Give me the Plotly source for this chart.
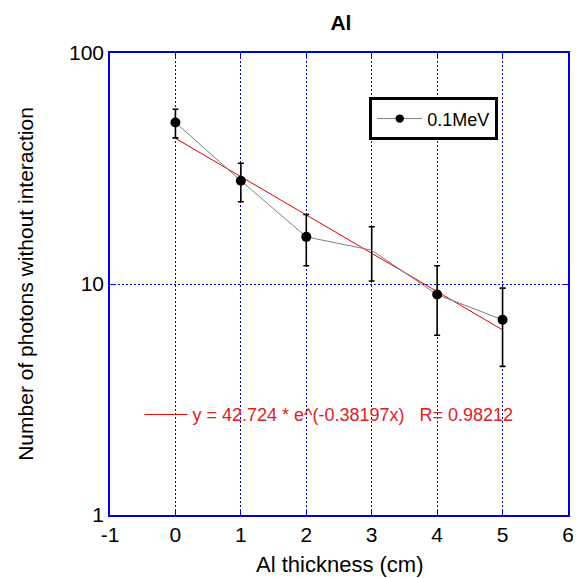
import plotly.graph_objects as go

# data
thickness = [0, 1, 2, 3, 4, 5]
photons = [50, 28, 16, 14, 9, 7]
errors = [7.1, 5.3, 4.0, 3.7, 3.0, 2.6]
marker_sizes = [10, 10, 10, 0, 10, 10]

fit_x = [0, 5]
fit_y = [42.72, 6.33]
fit_label = "y = 42.724 * e^(-0.38197x)   R= 0.98212"

x_ticks = [-1, 0, 1, 2, 3, 4, 5, 6]
x_ticklabels = ["-1", "0", "1", "2", "3", "4", "5", "6"]
y_ticks = [1, 10, 100]
y_ticklabels = ["1", "10", "100"]

FONT = "Liberation Sans, Arial, sans-serif"
BLUE = "#0000dd"

fig = go.Figure()

fig.add_trace(go.Scatter(
    x=fit_x, y=fit_y, mode="lines", name=fit_label,
    line=dict(color="#e00000", width=1),
    legend="legend2", showlegend=True,
))

fig.add_trace(go.Scatter(
    x=thickness, y=photons, mode="lines+markers", name="0.1MeV",
    line=dict(color="#808080", width=1),
    marker=dict(color="black", size=marker_sizes, opacity=1,
                line=dict(width=0)),
    error_y=dict(type="data", array=errors, visible=True,
                 color="black", thickness=1.6, width=3),
    legend="legend", showlegend=True,
))

axis_common = dict(
    showline=True, linecolor=BLUE, linewidth=1.5, mirror="ticks",
    ticks="inside", ticklen=5, tickcolor=BLUE,
    showgrid=True, gridcolor=BLUE, griddash="2px,2px", gridwidth=1,
    zeroline=False,
    tickfont=dict(family=FONT, size=21, color="black"),
)

fig.update_layout(
    width=573, height=570,
    margin=dict(l=102, r=7, t=45, b=63),
    paper_bgcolor="white", plot_bgcolor="white",
    font=dict(family=FONT, color="black"),
    showlegend=True,
    title=dict(text="<b>Al</b>", x=0.581, xanchor="center",
               y=0.975, yanchor="middle",
               font=dict(family=FONT, size=21, color="black")),
    xaxis=dict(range=[-1, 6], tickvals=x_ticks, ticktext=x_ticklabels,
               **axis_common),
    yaxis=dict(type="log", range=[0, 2], tickvals=y_ticks,
               ticktext=y_ticklabels, **axis_common),
    legend=dict(x=0.566, y=0.904, xanchor="left", yanchor="top",
                bgcolor="white", bordercolor="black", borderwidth=3,
                font=dict(family=FONT, size=18, color="black"),
                itemwidth=45),
    legend2=dict(x=0.0643, y=0.217, xanchor="left", yanchor="middle",
                 bgcolor="rgba(0,0,0,0)", borderwidth=0,
                 font=dict(family=FONT, size=18, color="#e02020"),
                 itemwidth=43),
    annotations=[
        dict(text="Al thickness (cm)", xref="paper", yref="paper",
             x=0.5, y=-0.1076, xanchor="center", yanchor="middle",
             showarrow=False, font=dict(family=FONT, size=22, color="black")),
        dict(text="Number of photons without interaction", xref="paper", yref="paper",
             x=-0.186, y=0.5, xanchor="center", yanchor="middle", textangle=-90,
             showarrow=False, font=dict(family=FONT, size=21, color="black")),
    ],
)

fig.write_html("out.html")
